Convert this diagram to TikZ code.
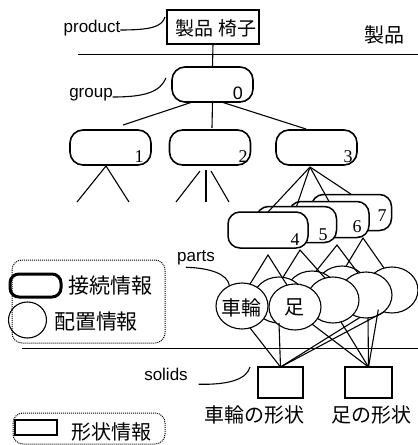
\documentclass[tikz,border=0pt]{standalone}
\usepackage{fontspec}
\setmainfont{Liberation Serif}
\setsansfont{Liberation Sans}
\newfontfamily\cjk{Noto Sans CJK JP}
\usetikzlibrary{shapes.geometric}
\begin{document}
\begin{tikzpicture}[x=1pt,y=-1pt,
  every node/.style={inner sep=0pt, outer sep=0pt},
  grp/.style={draw, rounded corners=13pt, minimum width=81pt, minimum height=35pt, line width=1.6pt, fill=white},
  pbox/.style={draw, rounded corners=12pt, minimum width=80pt, minimum height=36pt, line width=1.5pt, fill=white},
  lbl/.style={font=\sffamily\fontsize{17}{17}\selectfont},
  jp/.style={font=\cjk\fontsize{20}{20}\selectfont},
  jpl/.style={font=\cjk\fontsize{21}{21}\selectfont},
  num/.style={font=\rmfamily\fontsize{18}{18}\selectfont},
  circ/.style={draw, ellipse, minimum width=52pt, minimum height=46pt, fill=white, line width=1.1pt},
  shapebox/.style={draw, minimum height=31pt, line width=1.1pt},
  ln/.style={line width=1.1pt},
  dotline/.style={densely dotted, line width=1pt}
]
\useasboundingbox (0,0) rectangle (418,445);
% dividers
\coordinate (d1a) at (78,54); \coordinate (d1b) at (418,54);
\coordinate (d2a) at (22,348); \coordinate (d2b) at (418,348);
\draw[line width=0.9pt] (d1a) -- (d1b);
\draw[line width=0.9pt] (d2a) -- (d2b);
% product
\node[draw, line width=1.1pt, minimum width=92pt, minimum height=34pt, fill=white] (prod) at (213,27) {};
\node[font=\cjk\fontsize{19}{19}\selectfont] (prodtxt) at (216,28) {製品\hspace{5pt}椅子};
\node[jp] (seihin) at (384,35) {製品};
\node[lbl] (productlbl) at (92,28) {product};
\draw[ln] ([yshift=-2pt]productlbl.east) .. controls (150,30) and (162,27) .. ([xshift=-2pt,yshift=-7pt]prod.north west);
% groups
\node[grp] (g0) at (212.5,84.5) {};
\node[font=\sffamily\fontsize{18}{18}\selectfont] (n0) at (238,93) {0};
\node[lbl] (grouplbl) at (91,95) {group};
\draw[ln] ([yshift=-2pt]grouplbl.east) .. controls (145,97) and (160,92) .. ([xshift=-6pt,yshift=-11pt]g0.north west);
\draw[ln] (prod.south) -- (g0.north);
\coordinate (e1) at (123,125);
\coordinate (e2) at (212,128);
\coordinate (e3) at (306,129);
\draw[ln] ([xshift=-20pt]g0.south) -- (e1);
\draw[ln] (g0.south) -- (e2);
\draw[ln] ([xshift=9pt]g0.south) -- (e3);
\node[grp] (g1) at (110.5,147.5) {};
\node[grp] (g2) at (210,147.5) {};
\node[grp] (g3) at (316.5,147.5) {};
\node[num] (n1) at (139,157) {1};
\node[num] (n2) at (243,157) {2};
\node[num] (n3) at (348,157) {3};
% group 1 and 2 stubs
\coordinate (a1) at (106,166);
\coordinate (a1l) at (77,202); \coordinate (a1r) at (129,202);
\draw[ln] (a1l) -- (a1) -- (a1r);
\coordinate (a2l0) at (200,171); \coordinate (a2l) at (176,202);
\coordinate (a2m0) at (206,170); \coordinate (a2m) at (206,202);
\coordinate (a2r0) at (211,171); \coordinate (a2r) at (229,202);
\draw[ln] (a2l0) -- (a2l);
\draw[ln] (a2m0) -- (a2m);
\draw[ln] (a2r0) -- (a2r);
% parts boxes
\coordinate (a3) at (310,167);
\node[pbox] (p7) at (351.5,212.5) {};
\node[pbox] (p6) at (329,219.5) {};
\node[pbox] (p5) at (296.5,224.5) {};
\draw[ln] (a3) -- (p7.north);
\draw[ln] (a3) -- (p6.north);
\draw[ln] (a3) -- (p5.north);
\node[pbox] (p4) at (268,230) {};
\draw[ln] (a3) -- (p4.north);
\node[num] (n4) at (295,240) {4};
\node[num] (n5) at (323,235) {5};
\node[num] (n6) at (357,227) {6};
\node[num] (n7) at (382,216) {7};
% apexes under parts boxes
\coordinate (b4) at (268,255);
\coordinate (b5) at (300,250);
\coordinate (b6) at (337,245);
\coordinate (b7) at (363,238);
% layer 3
\node[circ] (c3L) at (342,289) {};
\node[circ] (c3R) at (392,290) {};
\draw[ln] (c3L.80) -- (b7) -- (c3R.110);
% layer 2
\node[circ] (c2L) at (312,294) {};
\node[circ] (c2R) at (366,295) {};
\draw[ln] (c2L.80) -- (b6) -- (c2R.110);
% layer 1
\node[circ] (c1L) at (279,300) {};
\node[circ] (c1R) at (333,300) {};
\draw[ln] (c1L.80) -- (b5) -- (c1R.110);
% layer 0
\node[circ] (c0L) at (242,306) {};
\node[circ] (c0R) at (295,307) {};
\draw[ln] (c0L.70) -- (b4) -- (c0R.110);
\node[jp] (sharin) at (241,308) {車輪};
\node[jp] (ashi) at (294,307) {足};
\node[lbl] (partslbl) at (196,258) {parts};
\draw[ln] ([xshift=-10pt,yshift=-2pt]partslbl.south) .. controls (210,268) and (228,274) .. (c0L.122);
% solids
\node[shapebox, minimum width=45pt] (sL) at (280.5,382.5) {};
\node[shapebox, minimum width=47pt] (sR) at (368.5,382.5) {};
\draw[ln] (c0L.290) -- (sL.north);
\draw[ln] (c1L.south) -- (sL.north);
\draw[ln] (c2R.255) -- (sL.north);
\draw[ln] (c3R.250) -- (sL.north);
\draw[ln] (c0R.315) -- (sR.north);
\draw[ln] (c1R.290) -- (sR.north);
\draw[ln] (c2R.275) -- (sR.north);
\draw[ln] (c3R.235) -- (sR.north);
\node[jp] (sharinkei) at (254,415) {車輪の形状};
\node[jp] (ashikei) at (371,415) {足の形状};
\node[lbl] (solidslbl) at (166,374) {solids};
\coordinate (solidsend) at (250,367);
\draw[ln] ([xshift=11pt,yshift=-4pt]solidslbl.south east) .. controls (232,385) and (247,378) .. (solidsend);
% legend
\draw[dotline, rounded corners=10pt] (12,260) rectangle (165,343);
\node[draw, line width=3pt, rounded corners=9pt, minimum width=51pt, minimum height=23pt] (legconn) at (35.5,285.5) {};
\node[jpl] (legconntxt) at (110,286) {接続情報};
\node[draw, ellipse, line width=1.1pt, minimum width=38pt, minimum height=36pt] (legcirc) at (27.5,320) {};
\node[jpl] (legcirctxt) at (96,322) {配置情報};
\draw[dotline, rounded corners=10pt] (13,413) rectangle (165,444);
\node[draw, line width=1.1pt, minimum width=42pt, minimum height=15pt] (legshape) at (36,427.5) {};
\node[jp] (legshapetxt) at (111,432) {形状情報};
\end{tikzpicture}
\end{document}
